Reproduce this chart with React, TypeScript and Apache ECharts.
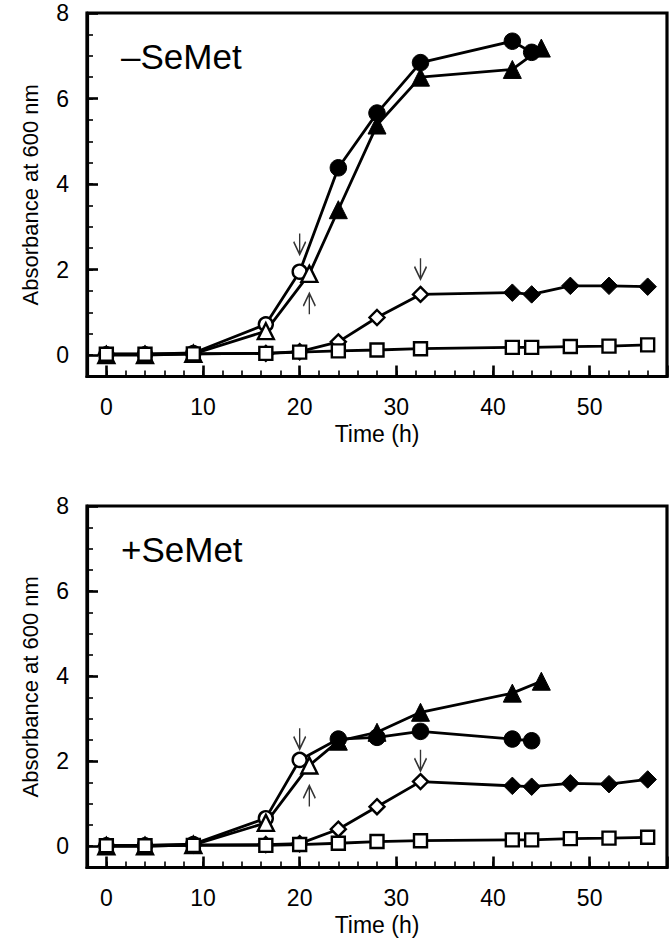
import React, { useEffect, useRef } from 'react';
import * as echarts from 'echarts';

// Sampling times (h)
const tCircle = [0, 4, 9, 16.5, 20, 24, 28, 32.5, 42, 44];
const tTriangle = [0, 4, 9, 16.5, 21, 24, 28, 32.5, 42, 45];
const tDiamond = [0, 4, 9, 16.5, 20, 24, 28, 32.5, 42, 44, 48, 52, 56];
const tSquare = [0, 4, 9, 16.5, 20, 24, 28, 32.5, 42, 44, 48, 52, 56];

// −SeMet absorbance at 600 nm
const circleMinus = [0.02, 0.02, 0.05, 0.72, 1.95, 4.38, 5.66, 6.84, 7.34, 7.08];
const triangleMinus = [0.0, 0.0, 0.03, 0.56, 1.9, 3.4, 5.38, 6.5, 6.68, 7.18];
const diamondMinus = [0.02, 0.02, 0.03, 0.04, 0.08, 0.31, 0.88, 1.42, 1.46, 1.42, 1.62, 1.62, 1.6];
const squareMinus = [0.02, 0.02, 0.03, 0.04, 0.07, 0.1, 0.12, 0.15, 0.18, 0.18, 0.2, 0.21, 0.24];

// +SeMet absorbance at 600 nm
const circlePlus = [0.02, 0.02, 0.05, 0.66, 2.03, 2.52, 2.56, 2.7, 2.52, 2.48];
const trianglePlus = [0.0, 0.0, 0.03, 0.55, 1.9, 2.47, 2.68, 3.15, 3.6, 3.88];
const diamondPlus = [0.02, 0.02, 0.03, 0.04, 0.06, 0.4, 0.93, 1.52, 1.42, 1.4, 1.48, 1.46, 1.57];
const squarePlus = [0.01, 0.01, 0.02, 0.02, 0.04, 0.07, 0.11, 0.13, 0.15, 0.15, 0.18, 0.19, 0.21];

// time from which markers are filled (after induction)
const filledFromCircle = 24;
const filledFromTriangle = 24;
const filledFromDiamond = 42;

// induction arrows [time, absorbance]
const arrowsDownMinus = [[20, 2.6], [32.5, 2.02]];
const arrowsUpMinus = [[21, 1.2]];
const arrowsDownPlus = [[20, 2.53], [32.5, 2.02]];
const arrowsUpPlus = [[21, 1.18]];

const panelLabels = ['–SeMet', '+SeMet'];
const xName = 'Time (h)';
const yName = 'Absorbance at 600 nm';

const FONT = '"Liberation Sans", Arial, Helvetica, sans-serif';

function makeData(times: number[], vals: number[], filledFrom: number | null, sizeOpen: number, sizeFilled: number) {
  return times.map((t, i) => {
    const open = filledFrom === null || t < filledFrom;
    return {
      value: [t, vals[i]],
      symbolSize: open ? sizeOpen : sizeFilled,
      itemStyle: open
        ? { color: '#fff', borderColor: '#000', borderWidth: 2.4 }
        : { color: '#000', borderColor: '#000', borderWidth: 1 },
    };
  });
}

function lineSeries(gi: number, times: number[], vals: number[], symbol: string, filledFrom: number | null, sizeOpen: number, sizeFilled: number) {
  return {
    type: 'line',
    xAxisIndex: gi * 2,
    yAxisIndex: gi * 2,
    symbol,
    showAllSymbol: true,
    data: makeData(times, vals, filledFrom, sizeOpen, sizeFilled),
    lineStyle: { color: '#000', width: 2.8 },
    clip: false,
    z: 3,
  };
}

function arrowSeries(gi: number, pts: number[][], down: boolean) {
  return {
    type: 'scatter',
    xAxisIndex: gi * 2,
    yAxisIndex: gi * 2,
    symbol: down ? 'path://M6,0L6,20M0,8L6,20L12,8' : 'path://M6,20L6,0M0,12L6,0L12,12',
    symbolSize: [12, 21],
    itemStyle: { color: 'rgba(0,0,0,0)', borderColor: '#000', borderWidth: 1.8 },
    data: pts,
    silent: true,
    z: 5,
  };
}

const gridTops = [13, 506];
const gridHeights = [363.5, 361.5];

export default function App() {
  const ref = useRef<HTMLDivElement>(null);
  useEffect(() => {
    if (!ref.current) return;
    const chart = echarts.init(ref.current, null, { renderer: 'svg' });
    const grids: any[] = [];
    const xAxes: any[] = [];
    const yAxes: any[] = [];
    const titles: any[] = [];
    [0, 1].forEach((gi) => {
      grids.push({
        left: 87,
        width: 590,
        top: gridTops[gi],
        height: gridHeights[gi],
        show: true,
        borderColor: '#000',
        borderWidth: 3.2,
        backgroundColor: 'transparent',
        containLabel: false,
      });
      xAxes.push({
        type: 'value',
        gridIndex: gi,
        min: -2,
        max: 58,
        interval: 2,
        position: 'bottom',
        name: xName,
        nameLocation: 'middle',
        nameGap: 46,
        nameTextStyle: { fontSize: 23, color: '#000', fontFamily: FONT },
        axisLine: { show: true, onZero: false, lineStyle: { color: '#000', width: 3.2 } },
        axisTick: { show: true, inside: true, length: 6, lineStyle: { color: '#000', width: 1.6 } },
        axisLabel: {
          fontSize: 23,
          color: '#000',
          fontFamily: FONT,
          margin: 19,
          formatter: (v: number) => (v >= 0 && Math.abs(v % 10) < 1e-6 ? String(Math.round(v)) : ''),
        },
        splitLine: { show: false },
      });
      xAxes.push({
        type: 'value',
        gridIndex: gi,
        min: -2,
        max: 58,
        minInterval: 10,
        maxInterval: 10,
        position: 'bottom',
        axisLine: { show: false, onZero: false },
        axisTick: { show: true, inside: true, length: 11, lineStyle: { color: '#000', width: 2.6 } },
        axisLabel: { show: false },
        splitLine: { show: false },
      });
      yAxes.push({
        type: 'value',
        gridIndex: gi,
        min: -0.5,
        max: 8,
        interval: 0.5,
        position: 'left',
        name: yName,
        nameLocation: 'middle',
        nameGap: 46,
        nameTextStyle: { fontSize: 22, color: '#000', fontFamily: FONT },
        axisLine: { show: true, onZero: false, lineStyle: { color: '#000', width: 3.2 } },
        axisTick: { show: true, inside: true, length: 6, lineStyle: { color: '#000', width: 1.6 } },
        axisLabel: {
          fontSize: 23,
          color: '#000',
          fontFamily: FONT,
          margin: 18,
          formatter: (v: number) =>
            v >= -1e-6 && Math.abs(v / 2 - Math.round(v / 2)) < 1e-6 ? String(Math.round(v)) : '',
        },
        splitLine: { show: false },
      });
      yAxes.push({
        type: 'value',
        gridIndex: gi,
        min: -0.5,
        max: 8,
        minInterval: 2,
        maxInterval: 2,
        position: 'left',
        axisLine: { show: false, onZero: false },
        axisTick: { show: true, inside: true, length: 11, lineStyle: { color: '#000', width: 2.6 } },
        axisLabel: { show: false },
        splitLine: { show: false },
      });
      titles.push({
        text: panelLabels[gi],
        left: 121,
        top: gridTops[gi] + 25.5,
        padding: 0,
        textStyle: { fontSize: 35, fontWeight: 'normal', color: '#000', fontFamily: FONT },
      });
    });

    const series: any[] = [
      lineSeries(0, tCircle, circleMinus, 'circle', filledFromCircle, 14, 16.5),
      lineSeries(0, tTriangle, triangleMinus, 'triangle', filledFromTriangle, 16, 18),
      lineSeries(0, tDiamond, diamondMinus, 'diamond', filledFromDiamond, 15, 17.5),
      lineSeries(0, tSquare, squareMinus, 'rect', null, 13, 13),
      arrowSeries(0, arrowsDownMinus, true),
      arrowSeries(0, arrowsUpMinus, false),
      lineSeries(1, tCircle, circlePlus, 'circle', filledFromCircle, 14, 16.5),
      lineSeries(1, tTriangle, trianglePlus, 'triangle', filledFromTriangle, 16, 18),
      lineSeries(1, tDiamond, diamondPlus, 'diamond', filledFromDiamond, 15, 17.5),
      lineSeries(1, tSquare, squarePlus, 'rect', null, 13, 13),
      arrowSeries(1, arrowsDownPlus, true),
      arrowSeries(1, arrowsUpPlus, false),
    ];

    chart.setOption({
      animation: false,
      backgroundColor: '#fff',
      title: titles,
      grid: grids,
      xAxis: xAxes,
      yAxis: yAxes,
      series,
    });
    return () => chart.dispose();
  }, []);
  return <div ref={ref} style={{ position: 'absolute', left: 0, top: 0, width: 670, height: 944 }} />;
}
